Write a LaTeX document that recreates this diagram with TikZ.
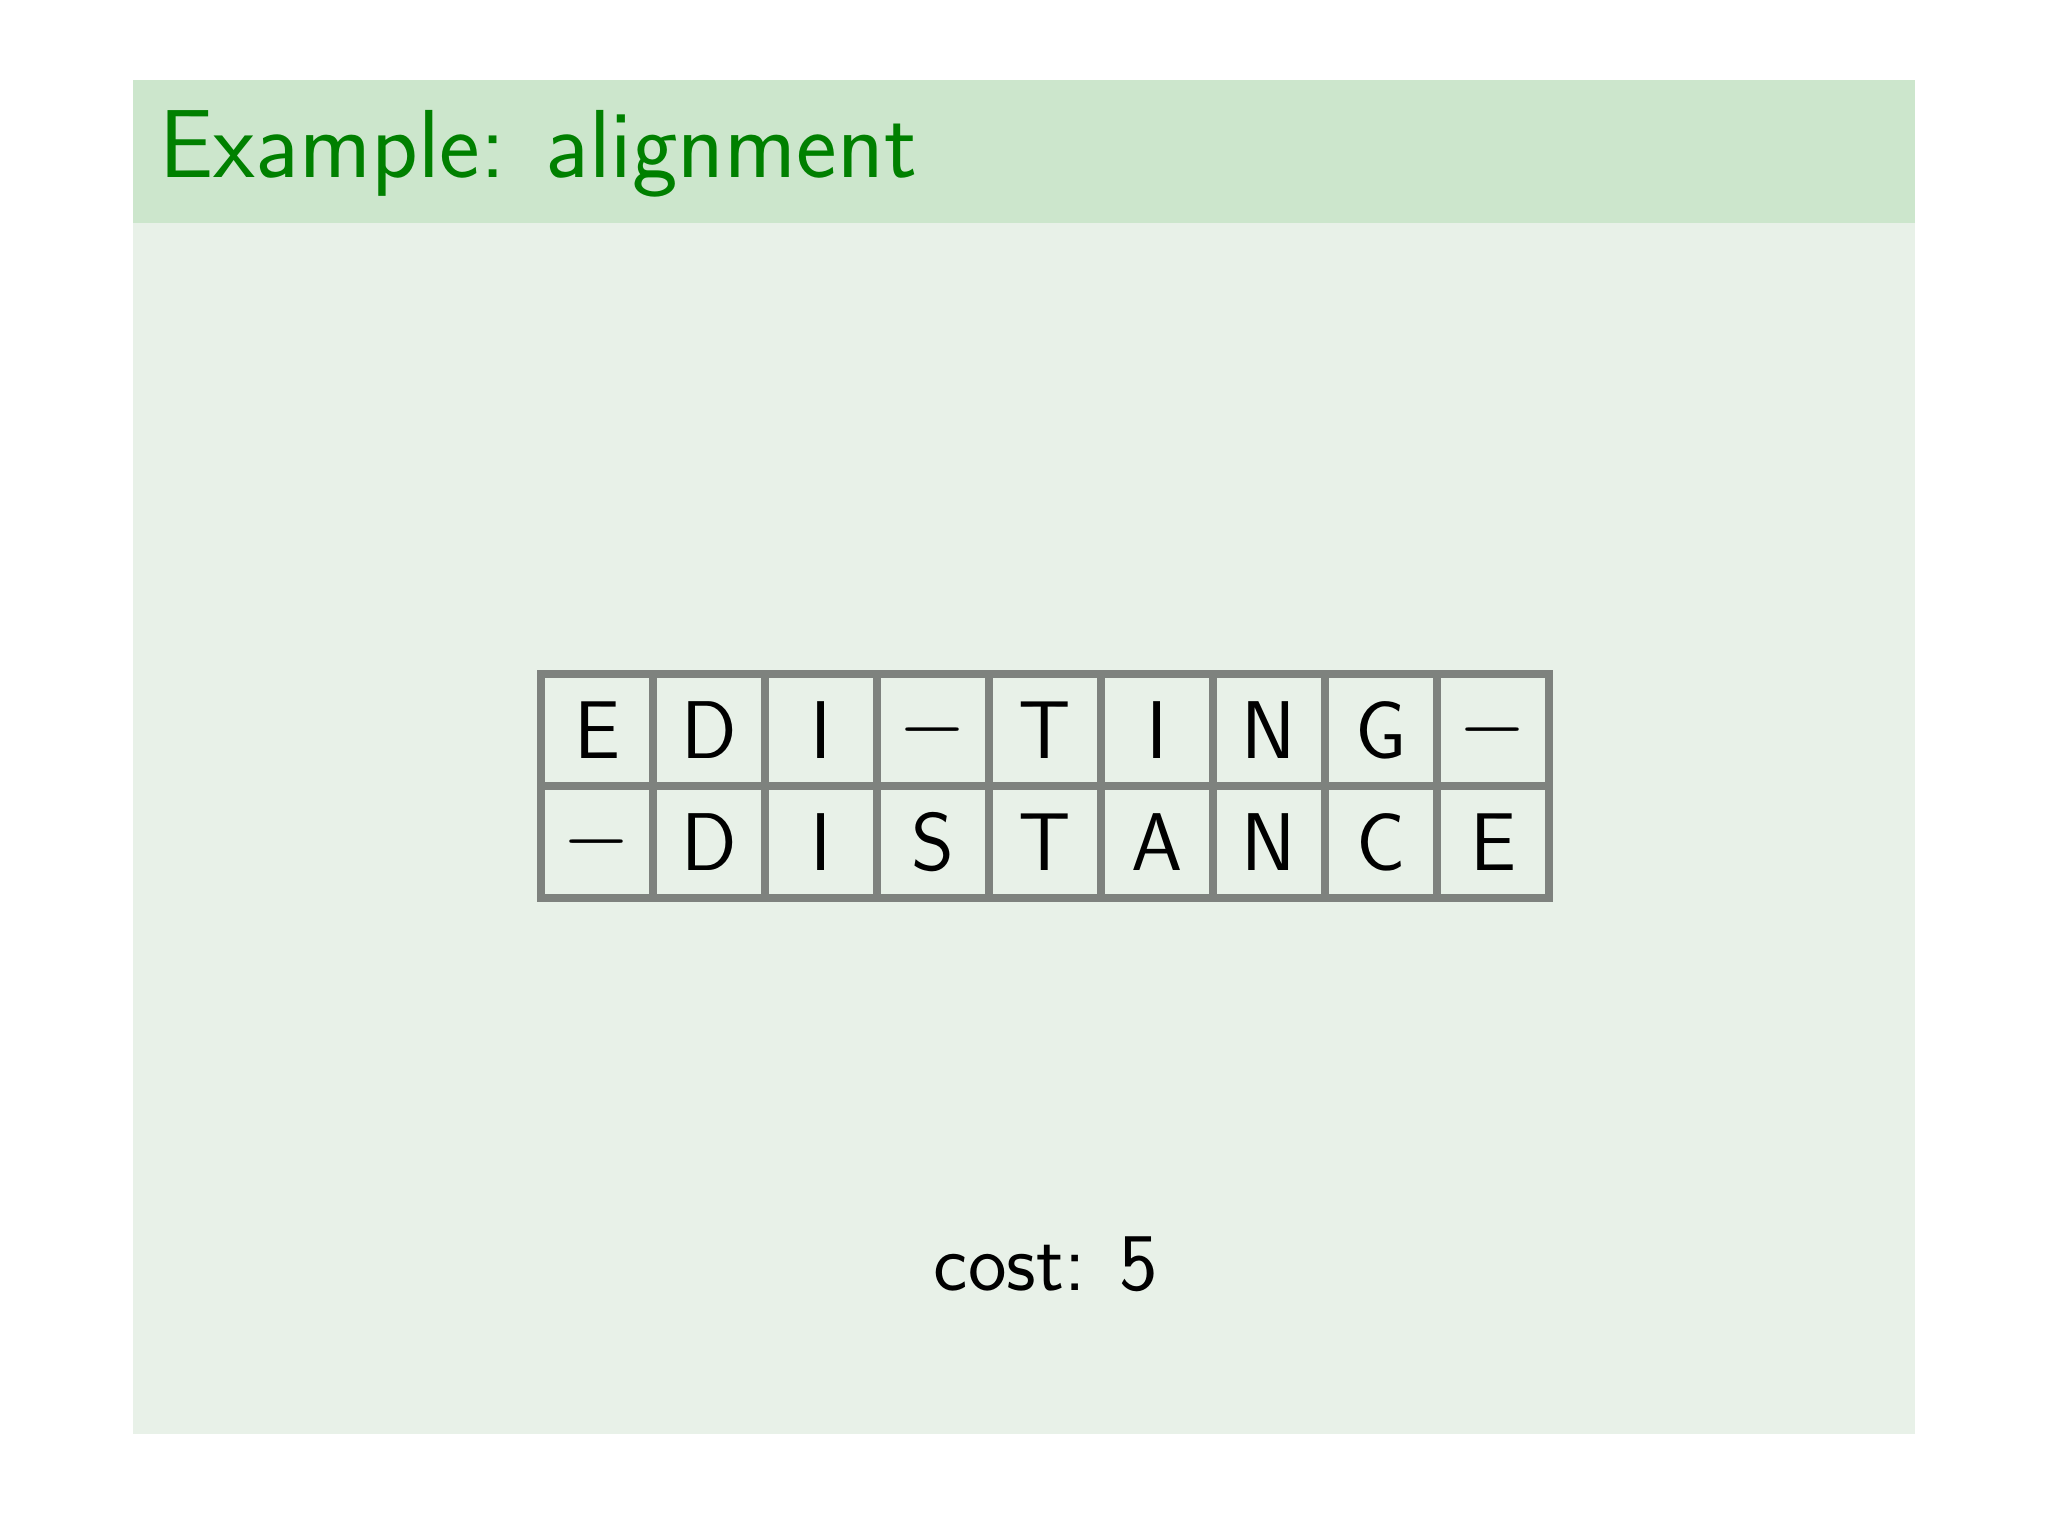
\documentclass[tikz,border=0pt]{standalone}
\usepackage{fontspec}
\definecolor{panelbg}{RGB}{232,241,232}
\definecolor{titlebg}{RGB}{204,230,204}
\definecolor{titlefg}{RGB}{0,128,0}
\definecolor{gridc}{RGB}{126,130,126}
\begin{document}
\begin{tikzpicture}[x=0.01cm,y=-0.01cm,
  cell/.style={draw=gridc,line width=0.08cm,minimum size=1.12cm,inner sep=0pt,font=\sffamily\fontsize{23.3}{28}\selectfont},
  ]
\useasboundingbox (0,0) rectangle (2048,1536);
\fill[white] (0,0) rectangle (2048,1536);
\fill[panelbg] (133,80) rectangle (1915,1434);
\fill[titlebg] (133,80) rectangle (1915,223);
\node[anchor=base west,inner sep=0pt,text=titlefg,font=\sffamily\fontsize{27.5}{33}\selectfont] (title) at (159,177) {Example: alignment};
\foreach \t [count=\i from 0] in {E,D,I,$-$,T,I,N,G,$-$} {
  \node[cell] (a\i) at (597+112*\i,730) {\t};
}
\foreach \t [count=\i from 0] in {$-$,D,I,S,T,A,N,C,E} {
  \node[cell] (b\i) at (597+112*\i,842) {\t};
}
\node[anchor=base,inner sep=0pt,font=\sffamily\fontsize{23.3}{28}\selectfont] (cost) at (1046,1290) {cost: 5};
\end{tikzpicture}
\end{document}
